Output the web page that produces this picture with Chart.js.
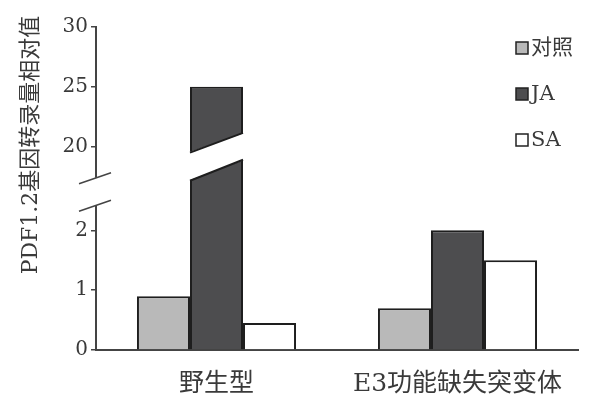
<!DOCTYPE html>
<html>
<head>
<meta charset="utf-8">
<script src="https://cdn.jsdelivr.net/npm/chart.js@4.4.1/dist/chart.umd.min.js"></script>
<style>
  html, body { margin: 0; padding: 0; background: #fff; }
  .wrap { width: 591px; height: 394px; }
</style>
</head>
<body>
<div class="wrap"><canvas id="myChart" width="591" height="394"></canvas></div>
<script>
// data
const categories = ['野生型', 'E3功能缺失突变体']
const seriesNames = ['对照', 'JA', 'SA']
const controlValues = [0.9, 0.7]
const jaValues = [25, 2.0]
const saValues = [0.45, 1.5]
const tickLabels = ['0', '1', '2', '20', '25', '30']
const yTitle = 'PDF1.2基因转录量相对值'

// broken axis: 0-2.5 drawn as is, 20-30 squeezed (5 units -> 1)
const toAxis = (v) => v <= 2.5 ? v : 3.4 + (v - 20) / 5
const tickPos = tickLabels.map(Number).map(toAxis)

const serif = "'DejaVu Serif', 'Noto Sans CJK SC', serif"
const textColor = '#3a3a3a'

const breakPlugin = {
  id: 'breaks',
  afterDatasetsDraw(chart) {
    const ctx = chart.ctx
    const y = chart.scales.y
    const bar = chart.getDatasetMeta(1).data[0]
    const x0 = bar.x - bar.width / 2
    const x1 = bar.x + bar.width / 2
    // white slanted gap across the tall bar
    const lowL = y.getPixelForValue(2.83), lowR = y.getPixelForValue(3.18)
    const highL = y.getPixelForValue(3.3), highR = y.getPixelForValue(3.63)
    ctx.save()
    ctx.fillStyle = '#fff'
    ctx.beginPath()
    ctx.moveTo(x0 - 2, lowL)
    ctx.lineTo(x1 + 2, lowR)
    ctx.lineTo(x1 + 2, highR)
    ctx.lineTo(x0 - 2, highL)
    ctx.closePath()
    ctx.fill()
    ctx.strokeStyle = '#1e1e1e'
    ctx.lineWidth = 2
    ctx.beginPath()
    ctx.moveTo(x0, lowL); ctx.lineTo(x1, lowR)
    ctx.moveTo(x0, highL); ctx.lineTo(x1, highR)
    ctx.stroke()
    ctx.restore()
  },
  afterDraw(chart) {
    const ctx = chart.ctx
    const y = chart.scales.y
    const ax = chart.chartArea.left
    const a = y.getPixelForValue(2.88)
    const b = y.getPixelForValue(2.42)
    ctx.save()
    ctx.fillStyle = '#fff'
    ctx.fillRect(ax - 3, a, 6, b - a)
    ctx.strokeStyle = '#444'
    ctx.lineWidth = 1.5
    ctx.beginPath()
    ctx.moveTo(ax - 17, a + 6); ctx.lineTo(ax + 15, a - 5)
    ctx.moveTo(ax - 17, b + 6); ctx.lineTo(ax + 15, b - 5)
    ctx.stroke()

    // y title
    ctx.fillStyle = textColor
    ctx.font = '22px ' + serif
    ctx.textAlign = 'center'
    ctx.textBaseline = 'middle'
    ctx.translate(31, 145)
    ctx.rotate(-Math.PI / 2)
    ctx.fillText(yTitle, 0, 0)
    ctx.restore()

    // legend
    ctx.save()
    ctx.font = '21px ' + serif
    ctx.textBaseline = 'middle'
    chart.data.datasets.forEach((ds, i) => {
      const cy = 48 + i * 46
      ctx.fillStyle = ds.backgroundColor
      ctx.fillRect(516, cy - 6, 12, 12)
      ctx.strokeStyle = '#222'
      ctx.lineWidth = 1.5
      ctx.strokeRect(516, cy - 6, 12, 12)
      ctx.fillStyle = textColor
      ctx.fillText(ds.label, 531, cy + 1)
    })
    ctx.restore()
  }
}

const ctx = document.getElementById('myChart')
const barStyle = { borderColor: '#1e1e1e', borderWidth: 2, borderSkipped: 'bottom' }

new Chart(ctx, {
  type: 'bar',
  data: {
    labels: categories,
    datasets: [
      { label: seriesNames[0], data: controlValues.map(toAxis), backgroundColor: '#b9b9b9', ...barStyle },
      { label: seriesNames[1], data: jaValues.map(toAxis), backgroundColor: '#4d4d4f', ...barStyle },
      { label: seriesNames[2], data: saValues.map(toAxis), backgroundColor: '#ffffff', ...barStyle },
    ]
  },
  options: {
    responsive: false,
    animation: false,
    layout: { padding: { top: 27, right: 13, left: 0, bottom: 0 } },
    categoryPercentage: 0.66,
    barPercentage: 1,
    plugins: {
      legend: { display: false },
      tooltip: { enabled: false },
      title: { display: false }
    },
    scales: {
      x: {
        grid: { display: false, drawTicks: false },
        border: { color: '#444', width: 2 },
        ticks: { color: textColor, font: { family: serif, size: 25 }, padding: 19 },
        afterFit: (s) => { s.height = 44 }
      },
      y: {
        min: 0,
        max: 5.4,
        afterBuildTicks: (s) => { s.ticks = tickPos.map(v => ({ value: v })) },
        afterFit: (s) => { s.width = 96 },
        grid: { drawOnChartArea: false, tickLength: 5, tickColor: '#444', lineWidth: 1.5 },
        border: { color: '#444', width: 2 },
        ticks: {
          color: textColor,
          font: { family: serif, size: 20 },
          padding: 3,
          callback: (v, i) => tickLabels[i]
        }
      }
    }
  },
  plugins: [breakPlugin]
})
</script>
</body>
</html>
